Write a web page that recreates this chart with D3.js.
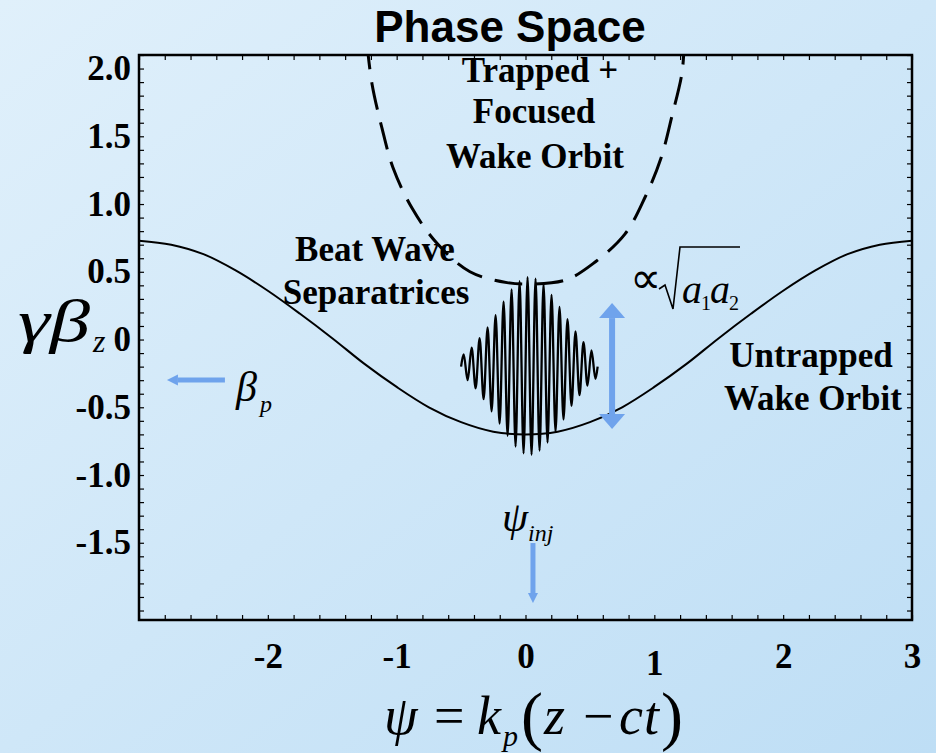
<!DOCTYPE html>
<html>
<head>
<meta charset="utf-8">
<script src="https://cdn.jsdelivr.net/npm/d3@7"></script>
<style>
  body { margin: 0; }
  svg { display: block; }
</style>
</head>
<body>
<div id="chart"></div>
<script>
// Separatrix (solid)
const sepPsi = [-3, -2.75, -2.5, -2.25, -2, -1.75, -1.5, -1.25, -1, -0.75, -0.5, -0.25, 0,
  0.25, 0.5, 0.75, 1, 1.25, 1.5, 1.75, 2, 2.25, 2.5, 2.75, 3];
const sepGamma = [0.73, 0.70, 0.63, 0.51, 0.36, 0.19, 0.01, -0.18, -0.35, -0.50, -0.61, -0.68, -0.70,
  -0.68, -0.61, -0.50, -0.35, -0.18, 0.01, 0.19, 0.36, 0.51, 0.63, 0.70, 0.73];

// Trapped + focused orbit (dashed)
const trapPsi = [-1.232, -1.192, -1.114, -1.029, -0.881, -0.687, -0.431, -0.144, 0.05,
  0.314, 0.524, 0.773, 0.928, 1.052, 1.137, 1.215, 1.232];
const trapGamma = [2.2, 1.89, 1.56, 1.27, 0.97, 0.71, 0.50, 0.42, 0.41,
  0.44, 0.56, 0.78, 1.05, 1.34, 1.65, 1.97, 2.2];

// Beat wave packet: turning points of the oscillation
const packetPsi = [-0.50, -0.48, -0.449, -0.418, -0.387, -0.356, -0.325, -0.294, -0.263, -0.232, -0.201,
  -0.170, -0.139, -0.108, -0.077, -0.046, -0.015, 0.016, 0.047, 0.078, 0.109, 0.140, 0.171, 0.202,
  0.233, 0.264, 0.295, 0.326, 0.357, 0.388, 0.419, 0.450, 0.481, 0.512, 0.543, 0.56];
const packetGamma = [-0.20, -0.11, -0.30, -0.06, -0.36, 0.01, -0.44, 0.09, -0.53, 0.18, -0.62,
  0.28, -0.71, 0.37, -0.79, 0.43, -0.84, 0.46, -0.85, 0.45, -0.82, 0.41, -0.76, 0.33,
  -0.68, 0.24, -0.59, 0.15, -0.49, 0.06, -0.41, -0.02, -0.34, -0.08, -0.29, -0.20];

const xTicks = [-2, -1, 0, 1, 2, 3];
const yTicks = [2, 1.5, 1, 0.5, 0, -0.5, -1, -1.5];
const yTickLabels = ["2.0", "1.5", "1.0", "0.5", "0", "-0.5", "-1.0", "-1.5"];

const width = 936, height = 753;
const plotLeft = 139, plotRight = 912, plotTop = 55, plotBottom = 620;
const serif = "'Liberation Serif', 'Times New Roman', serif";
const arrowBlue = "#6fa3ec";

const x = d3.scaleLinear([-3, 3], [plotLeft, plotRight]);
const y = d3.scaleLinear([-2.07, 2.1], [plotBottom, plotTop]);

const svg = d3.select("#chart")
  .append("svg")
  .attr("width", width)
  .attr("height", height)
  .attr("viewBox", [0, 0, width, height]);

const defs = svg.append("defs");
const grad = defs.append("linearGradient")
  .attr("id", "bg")
  .attr("x1", 0).attr("y1", 0).attr("x2", 1).attr("y2", 1);
grad.append("stop").attr("offset", 0).attr("stop-color", "#e0f0fb");
grad.append("stop").attr("offset", 1).attr("stop-color", "#bedef5");

defs.append("clipPath").attr("id", "plot")
  .append("rect")
  .attr("x", plotLeft).attr("y", plotTop)
  .attr("width", plotRight - plotLeft).attr("height", plotBottom - plotTop);

svg.append("rect")
  .attr("width", width).attr("height", height)
  .attr("fill", "url(#bg)");

// Title
svg.append("text")
  .attr("x", 510).attr("y", 42)
  .attr("text-anchor", "middle")
  .attr("font-family", "'Liberation Sans', Arial, sans-serif")
  .attr("font-weight", "bold")
  .attr("font-size", 44)
  .text("Phase Space");

// Minor ticks on all four sides, pointing in
const xMinor = d3.range(-15, 16).map(i => i / 5);
const yMinor = d3.range(-20, 22).map(i => i / 10);

function ticks(g) {
  g.select(".domain").remove();
  g.selectAll(".tick line").attr("stroke", "#000").attr("stroke-width", 1.2);
}
svg.append("g").attr("transform", `translate(${plotLeft},0)`)
  .call(d3.axisLeft(y).tickValues(yMinor).tickSize(-5).tickFormat("")).call(ticks);
svg.append("g").attr("transform", `translate(${plotRight},0)`)
  .call(d3.axisRight(y).tickValues(yMinor).tickSize(-5).tickFormat("")).call(ticks);
svg.append("g").attr("transform", `translate(0,${plotTop})`)
  .call(d3.axisTop(x).tickValues(xMinor).tickSize(-5).tickFormat("")).call(ticks);
svg.append("g").attr("transform", `translate(0,${plotBottom})`)
  .call(d3.axisBottom(x).tickValues(xMinor).tickSize(-5).tickFormat("")).call(ticks);

// Tick labels
svg.append("g")
  .attr("transform", `translate(${plotLeft},0)`)
  .call(d3.axisLeft(y).tickValues(yTicks).tickSize(0).tickPadding(8)
    .tickFormat((d, i) => yTickLabels[i]))
  .call(g => g.select(".domain").remove())
  .call(g => g.selectAll("text")
    .attr("font-family", serif).attr("font-weight", "bold")
    .attr("font-size", 35).attr("fill", "#000"));

svg.append("g")
  .attr("transform", `translate(0,${plotBottom})`)
  .call(d3.axisBottom(x).tickValues(xTicks).tickSize(0).tickPadding(23)
    .tickFormat(d => String(d)))
  .call(g => g.select(".domain").remove())
  .call(g => g.selectAll("text")
    .attr("font-family", serif).attr("font-weight", "bold")
    .attr("font-size", 35).attr("fill", "#000")
    .attr("transform", d => d === 1 ? "translate(0,7)" : null));

// Curves
const plot = svg.append("g").attr("clip-path", "url(#plot)");
const line = d3.line()
  .x(d => x(d[0]))
  .y(d => y(d[1]))
  .curve(d3.curveCatmullRom.alpha(0.5));

plot.append("path")
  .datum(d3.zip(sepPsi, sepGamma))
  .attr("d", line)
  .attr("fill", "none")
  .attr("stroke", "#000")
  .attr("stroke-width", 2);

plot.append("path")
  .datum(d3.zip(trapPsi, trapGamma))
  .attr("d", line)
  .attr("fill", "none")
  .attr("stroke", "#000")
  .attr("stroke-width", 3)
  .attr("stroke-dasharray", "28,13");

plot.append("path")
  .datum(d3.zip(packetPsi, packetGamma))
  .attr("d", d3.line().x(d => x(d[0])).y(d => y(d[1])).curve(d3.curveMonotoneX))
  .attr("fill", "none")
  .attr("stroke", "#000")
  .attr("stroke-width", 2.3)
  .attr("stroke-linejoin", "round");

// "Trapped +" sits against the top of the frame
plot.append("text")
  .attr("x", 540).attr("y", 82)
  .attr("text-anchor", "middle")
  .attr("font-family", serif).attr("font-weight", "bold")
  .attr("font-size", 35)
  .text("Trapped +");

// Box
svg.append("rect")
  .attr("x", plotLeft).attr("y", plotTop)
  .attr("width", plotRight - plotLeft).attr("height", plotBottom - plotTop)
  .attr("fill", "none")
  .attr("stroke", "#000")
  .attr("stroke-width", 2.5);

// Blue arrows (data units)
function arrow(p0, p1, shaft, headW, headL, both) {
  const [x0, y0] = [x(p0[0]), y(p0[1])];
  const [x1, y1] = [x(p1[0]), y(p1[1])];
  const len = Math.hypot(x1 - x0, y1 - y0);
  const ux = (x1 - x0) / len, uy = (y1 - y0) / len;
  const nx = -uy, ny = ux;
  const g = svg.append("g").attr("fill", arrowBlue);
  const s0 = both ? headL : 0;
  const pt = (t, w) => [x0 + ux * t + nx * w, y0 + uy * t + ny * w];
  g.append("polygon").attr("points", [
    pt(s0, shaft / 2), pt(len - headL, shaft / 2), pt(len - headL, -shaft / 2), pt(s0, -shaft / 2)
  ].map(p => p.join(",")).join(" "));
  g.append("polygon").attr("points", [
    pt(len, 0), pt(len - headL, headW / 2), pt(len - headL, -headW / 2)
  ].map(p => p.join(",")).join(" "));
  if (both) g.append("polygon").attr("points", [
    pt(0, 0), pt(headL, headW / 2), pt(headL, -headW / 2)
  ].map(p => p.join(",")).join(" "));
}
arrow([-2.333, -0.299], [-2.783, -0.299], 5, 11, 11, false);
arrow([0.672, 0.269], [0.672, -0.661], 6, 26, 15, true);
arrow([0.058, -1.502], [0.058, -1.945], 5, 10, 10, false);

// Annotations
const bold = (txt, cx, by) => svg.append("text")
  .attr("x", cx).attr("y", by)
  .attr("text-anchor", "middle")
  .attr("font-family", serif).attr("font-weight", "bold")
  .attr("font-size", 35)
  .text(txt);
bold("Focused", 534, 123);
bold("Wake Orbit", 535, 168);
bold("Beat Wave", 375, 261);
bold("Separatrices", 376, 304);
bold("Untrapped", 811, 367);
bold("Wake Orbit", 813, 410);

const italic = (txt, px, by, size) => svg.append("text")
  .attr("x", px).attr("y", by)
  .attr("font-family", serif).attr("font-style", "italic")
  .attr("font-size", size)
  .text(txt);
const plain = (txt, px, by, size) => svg.append("text")
  .attr("x", px).attr("y", by)
  .attr("font-family", serif)
  .attr("font-size", size)
  .text(txt);

// proportional to sqrt(a1 a2)
plain("\u221D", 630, 293, 44);
svg.append("path")
  .attr("d", "M659,289 L665,285 L673,309 L680,247 L740,247")
  .attr("fill", "none").attr("stroke", "#000").attr("stroke-width", 1.6);
italic("a", 682, 303, 40);
plain("1", 701, 310, 20);
italic("a", 710, 303, 40);
plain("2", 729, 310, 20);

// gamma beta_z
italic("\u03B3\u03B2", 18, 341, 60)
  .attr("textLength", 72).attr("lengthAdjust", "spacingAndGlyphs");
italic("z", 93, 352, 32);

// beta_p
italic("\u03B2", 236, 401, 42);
italic("p", 260, 412, 24);

// psi_inj
italic("\u03C8", 502, 531, 42);
italic("inj", 528, 541, 24);

// psi = k_p(z - ct)
italic("\u03C8", 384, 734, 54);
plain("=", 434, 734, 54);
italic("k", 477, 734, 54);
italic("p", 503, 746, 30);
plain("(", 521, 738, 66);
italic("z", 544, 734, 54);
plain("\u2212", 583, 734, 54);
italic("c", 619, 734, 54);
italic("t", 644, 734, 54);
plain(")", 661, 738, 66);
</script>
</body>
</html>
